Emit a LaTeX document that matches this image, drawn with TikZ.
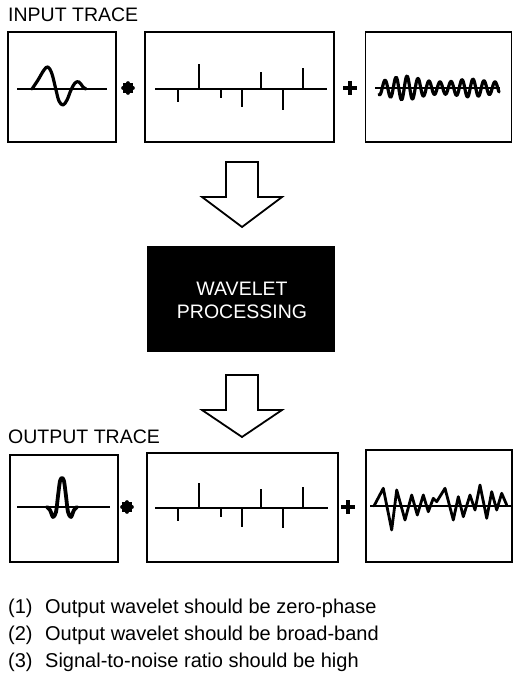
\documentclass[tikz,border=0pt]{standalone}
\usepackage{fontspec}
\setmainfont{Liberation Sans}
\begin{document}
\begin{tikzpicture}[x=1pt,y=-1pt,
  frame/.style={draw,line width=1.8pt,inner sep=0pt},
  wave/.style={line width=3.2pt,line join=round,line cap=round},
  spike/.style={line width=2.4pt},
  baseln/.style={line width=2.4pt},
  lbl/.style={font=\fontsize{19.5}{23}\selectfont,anchor=base west,inner sep=0pt},
  note/.style={font=\fontsize{20}{23}\selectfont,anchor=base west,inner sep=0pt},
  blockarrow/.style={draw,line width=1.8pt,fill=white,line join=miter},
  asterisk/.style={line width=3.6pt,line cap=round},
  plussign/.style={line width=3.8pt},
]
\useasboundingbox (0,0) rectangle (513,674);

% ---------- labels ----------
\node[lbl] (inlabel) at (8,22) {INPUT TRACE};
\node[lbl] (outlabel) at (8,443) {OUTPUT TRACE};

% ---------- input boxes ----------
\node[frame,minimum width=108pt,minimum height=110pt] (ib1) at (62,87) {};
\node[frame,minimum width=189pt,minimum height=110pt] (ib2) at (239.5,87) {};
\node[frame,minimum width=146pt,minimum height=110pt] (ib3) at (438.5,87) {};

% input wavelet
\draw[baseln] (17,89) -- (107,89);
\draw[wave] plot[smooth,tension=0.6] coordinates {(32,89) (38,80) (44,70) (48,67) (52,74) (56,90) (59,101) (63,105) (67,100) (71,90) (75,83) (79,82) (83,87) (86,89)};

% input noise
\draw[baseln] (375,88) -- (500,88);
\draw[wave,line width=3.2pt] plot[domain=0:120,samples=240]
  ({379+\x},{88-(6+6*exp(-((\x-26)/18)^2)+3*exp(-((\x-91)/15)^2))*sin(32.7273*(\x-3.25))});

% input reflectivity
\draw[baseln] (155,89) -- (327,89);
\foreach \sx/\sy in {178/102,199/64,221/98,242/107,261/72,283/110,303/68}
  \draw[spike] (\sx,89) -- (\sx,\sy);

% operators (input)
\foreach \a in {0,45,90,135}
  \draw[asterisk] (128,88) ++(\a:5) -- ++(\a+180:10);
\draw[plussign] (343,88) -- (357,88) (350,81) -- (350,95);

% ---------- arrow 1 ----------
\draw[blockarrow] (226,162) -- (258,162) -- (258,197) -- (282,197) -- (242,227) -- (202,197) -- (226,197) -- cycle;

% ---------- processing box ----------
\node[fill=black,minimum width=188pt,minimum height=106pt,inner sep=0pt] (proc) at (241,299) {};
\node[font=\fontsize{19.5}{23}\selectfont,text=white,anchor=base,inner sep=0pt] (proc1) at (242,295) {WAVELET};
\node[font=\fontsize{19.5}{23}\selectfont,text=white,anchor=base,inner sep=0pt] (proc2) at (242,318) {PROCESSING};

% ---------- arrow 2 ----------
\draw[blockarrow] (226,375) -- (258,375) -- (258,410) -- (282,410) -- (242,437) -- (202,410) -- (226,410) -- cycle;

% ---------- output boxes ----------
\node[frame,minimum width=108pt,minimum height=107pt] (ob1) at (64,508.5) {};
\node[frame,minimum width=191pt,minimum height=109pt] (ob2) at (242.5,507.5) {};
\node[frame,minimum width=146pt,minimum height=112pt] (ob3) at (439,506) {};

% output wavelet (zero phase)
\draw[baseln] (17,507) -- (110,507);
\draw[wave,line width=3.8pt] plot[smooth,tension=0.5] coordinates {(47,507) (50,510) (53,517) (56,512) (58,496) (60,481) (62,478) (64,481) (66,496) (68,512) (71,517) (74,510) (77,507)};

% output reflectivity
\draw[baseln] (155,508) -- (328,508);
\foreach \sx/\sy in {178/521,199/483,221/517,242/527,261/489,283/528,303/487}
  \draw[spike] (\sx,508) -- (\sx,\sy);

% output noise
\draw[baseln] (370,506) -- (512,506);
\draw[wave,line width=2.8pt] plot coordinates {(374,506) (383.3,488.3) (391.7,530) (396.7,490) (405,520) (411.7,495) (417.3,515) (423.3,495) (428.3,511.7) (433.3,498.3) (436.7,501.7) (445,488.3) (453.3,520) (458.3,496.7) (463.3,516.7) (470,495) (475,510) (480,485) (486.7,518.3) (491.7,491.7) (496.7,510) (501.7,493.3) (506.7,505)};

% operators (output)
\foreach \a in {0,45,90,135}
  \draw[asterisk] (127,507) ++(\a:5) -- ++(\a+180:10);
\draw[plussign] (341,507) -- (355,507) (348,500) -- (348,514);

% ---------- notes ----------
\node[note] (note1) at (8,613) {\makebox[37pt][l]{(1)}Output wavelet should be zero-phase};
\node[note] (note2) at (8,640) {\makebox[37pt][l]{(2)}Output wavelet should be broad-band};
\node[note] (note3) at (8,667) {\makebox[37pt][l]{(3)}Signal-to-noise ratio should be high};
\end{tikzpicture}
\end{document}
